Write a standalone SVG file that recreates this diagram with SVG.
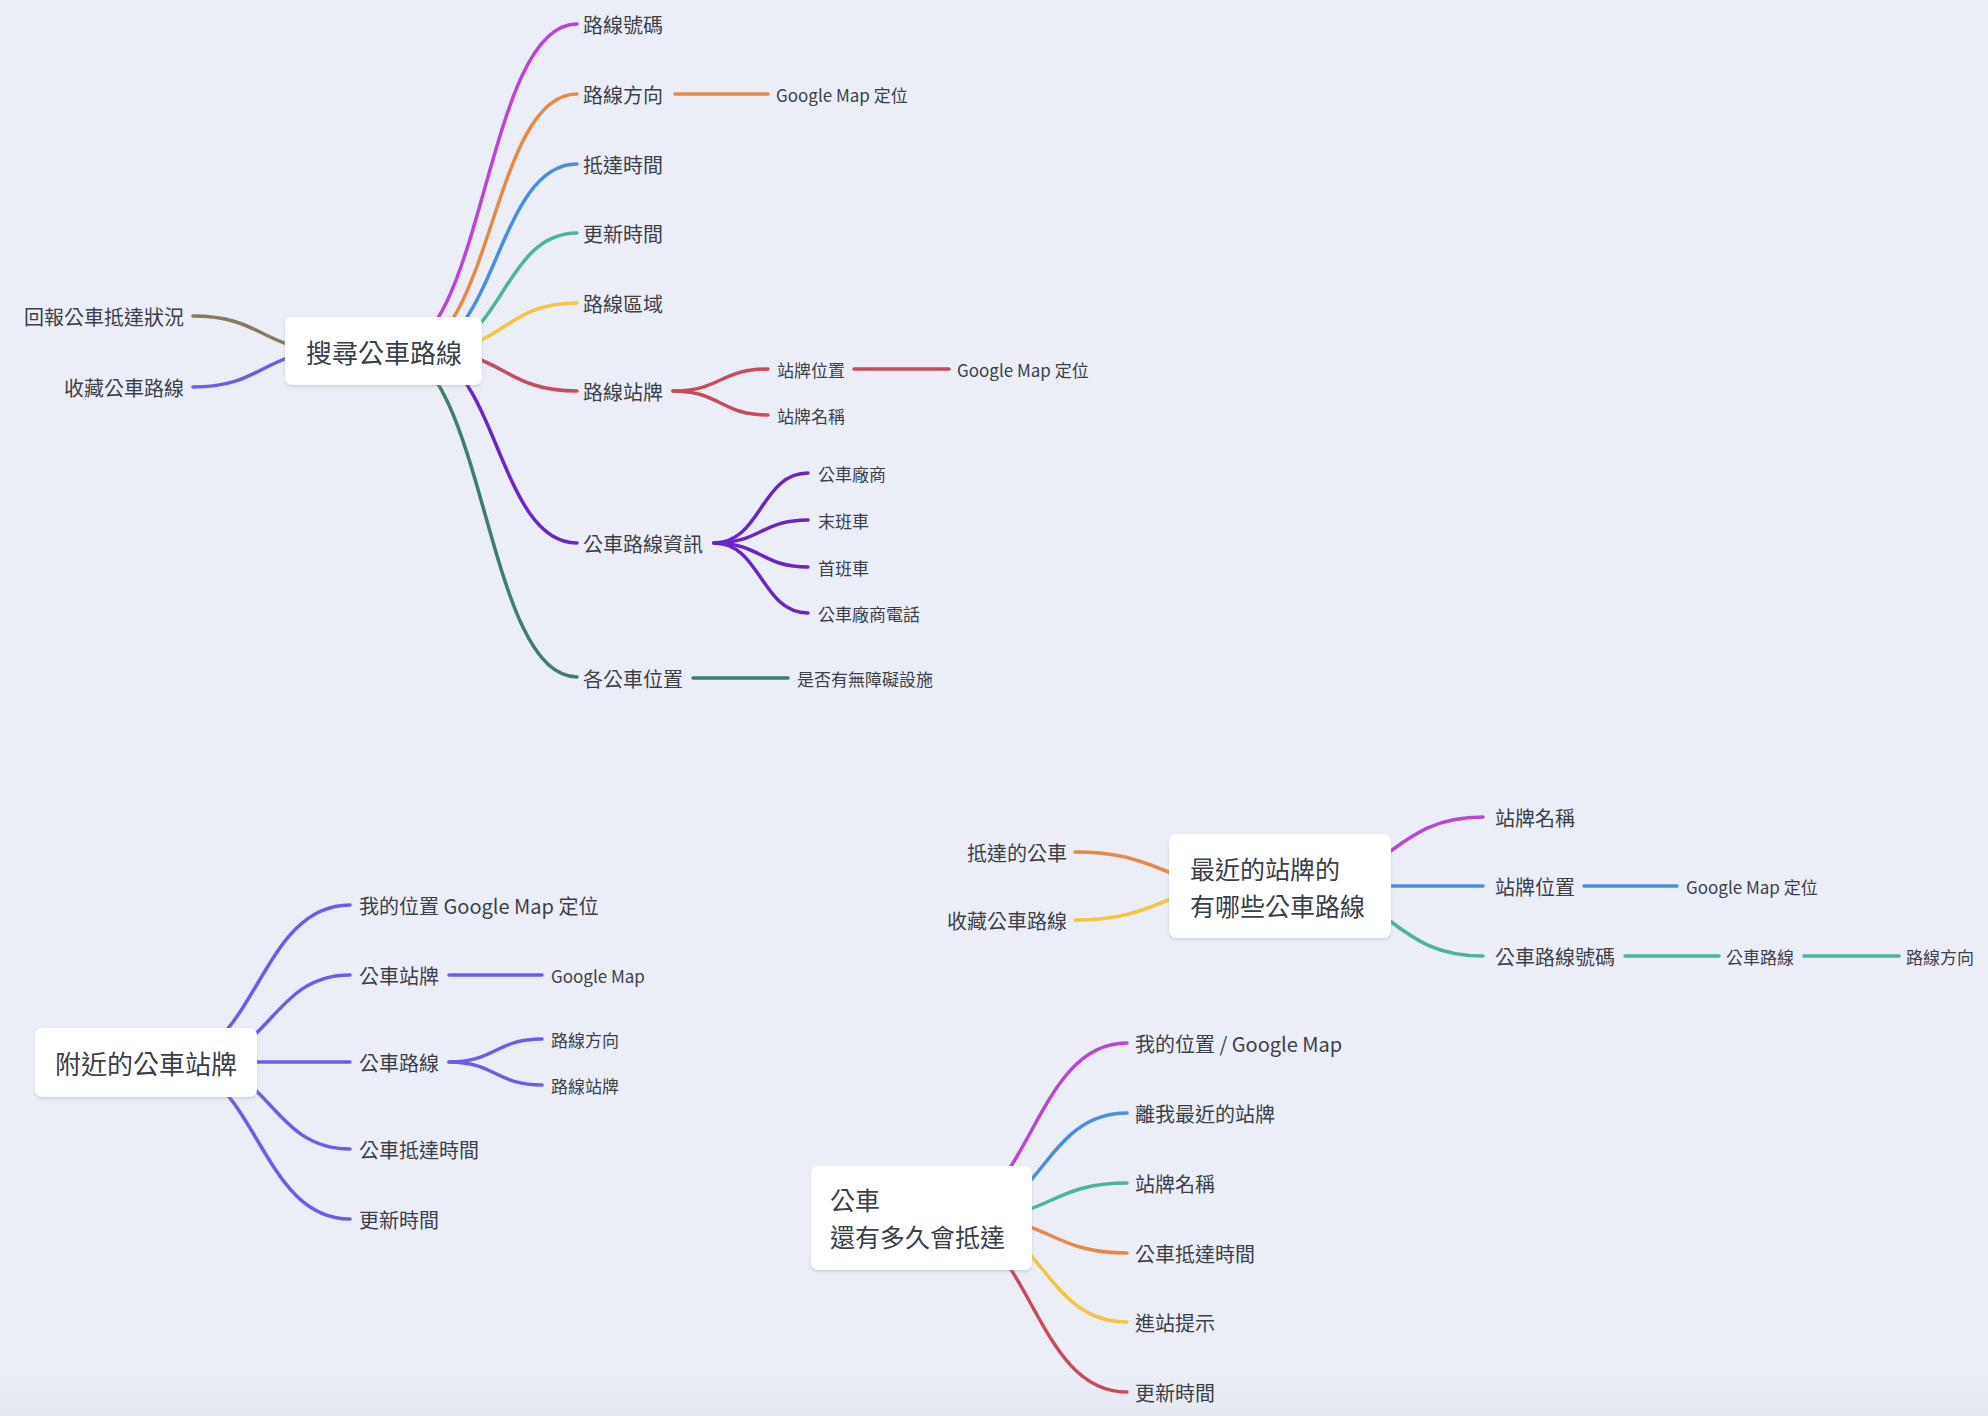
<svg xmlns="http://www.w3.org/2000/svg" width="1988" height="1416" viewBox="0 0 1988 1416">
<defs>
<linearGradient id="bg" x1="0" y1="0" x2="0" y2="1">
<stop offset="0" stop-color="#EBEEF7"/>
<stop offset="0.97" stop-color="#EBEEF7"/>
<stop offset="1" stop-color="#E6E9F2"/>
</linearGradient>
<filter id="sh" x="-10%" y="-10%" width="120%" height="130%">
<feDropShadow dx="0" dy="1.5" stdDeviation="1.5" flood-color="#8890a8" flood-opacity="0.35"/>
</filter>
<style>
text{font-family:"Noto Sans CJK TC","Noto Sans CJK SC",sans-serif;fill:#3b3f47;dominant-baseline:central}
.t20{font-size:20px}
.t17{font-size:17px}
.t26{font-size:26px}
.t25{font-size:25px}
.e{text-anchor:end}
.m{text-anchor:middle}
.box{fill:#ffffff;filter:url(#sh)}
path,line{fill:none;stroke-width:3.5;stroke-linecap:round}
.pu{stroke:#B646D6}.or{stroke:#E38A48}.bl{stroke:#4A8DE0}.te{stroke:#4DB39B}
.ye{stroke:#F2C641}.re{stroke:#C94A5A}.dp{stroke:#6B24C9}.dg{stroke:#3F7E6B}
.br{stroke:#8A7A5C}.bv{stroke:#6B5DEB}
</style>
</defs>
<rect width="1988" height="1416" fill="url(#bg)"/>
<g id="connectors">
<path class="pu" d="M393 351 C485 351 485 24 577 24"/>
<path class="or" d="M407 351 C492 351 492 94 577 94"/>
<path class="bl" d="M416 351 C496.5 351 496.5 164 577 164"/>
<path class="te" d="M428 351 C502.5 351 502.5 233 577 233"/>
<path class="ye" d="M430 351 C503.5 351 503.5 303 577 303"/>
<path class="re" d="M430 351 C503.5 351 503.5 391 577 391"/>
<path class="dp" d="M417 351 C497 351 497 543 577 543"/>
<path class="dg" d="M393 351 C485 351 485 677 577 677"/>
<path class="br" d="M333 351 C263 351 263 316 193 316"/>
<path class="bv" d="M333 351 C263 351 263 387 193 387"/>
<line class="or" x1="675" y1="94" x2="768" y2="94"/>
<path class="re" d="M673 391 C720.5 391 720.5 369 768 369"/>
<path class="re" d="M673 391 C720.5 391 720.5 415 768 415"/>
<line class="re" x1="854" y1="369" x2="949" y2="369"/>
<path class="dp" d="M714 543 C761 543 761 473 808 473"/>
<path class="dp" d="M714 543 C761 543 761 520 808 520"/>
<path class="dp" d="M714 543 C761 543 761 567 808 567"/>
<path class="dp" d="M714 543 C761 543 761 613 808 613"/>
<line class="dg" x1="693" y1="678" x2="788" y2="678"/>
<path class="bv" d="M165 1062 C257.5 1062 257.5 905 350 905"/>
<path class="bv" d="M191 1062 C270.5 1062 270.5 975 350 975"/>
<line class="bv" x1="200" y1="1062" x2="350" y2="1062"/>
<path class="bv" d="M191 1062 C270.5 1062 270.5 1149 350 1149"/>
<path class="bv" d="M165 1062 C257.5 1062 257.5 1219 350 1219"/>
<line class="bv" x1="449" y1="975" x2="542" y2="975"/>
<path class="bv" d="M449 1062 C495.5 1062 495.5 1039 542 1039"/>
<path class="bv" d="M449 1062 C495.5 1062 495.5 1085 542 1085"/>
<path class="pu" d="M1297 886 C1390 886 1390 817 1483 817"/>
<line class="bl" x1="1300" y1="886" x2="1483" y2="886"/>
<path class="te" d="M1297 886 C1390 886 1390 956 1483 956"/>
<path class="or" d="M1247 886 C1161 886 1161 852 1075 852"/>
<path class="ye" d="M1247 886 C1161 886 1161 920 1075 920"/>
<line class="bl" x1="1584" y1="886" x2="1677" y2="886"/>
<line class="te" x1="1625" y1="956" x2="1719" y2="956"/>
<line class="te" x1="1804" y1="956" x2="1899" y2="956"/>
<path class="pu" d="M936 1218 C1031.5 1218 1031.5 1043 1127 1043"/>
<path class="bl" d="M959 1218 C1043 1218 1043 1113 1127 1113"/>
<path class="te" d="M974 1218 C1050.5 1218 1050.5 1183 1127 1183"/>
<path class="or" d="M974 1218 C1050.5 1218 1050.5 1253 1127 1253"/>
<path class="ye" d="M959 1218 C1043 1218 1043 1322 1127 1322"/>
<path class="re" d="M936 1218 C1031.5 1218 1031.5 1392 1127 1392"/>
</g>
<g id="root1"><rect class="box" x="285" y="317" width="197" height="68" rx="7"/><text class="t26 m" x="384" y="351">搜尋公車路線</text></g>
<g id="n1-1"><text class="t20" x="583" y="24">路線號碼</text></g>
<g id="n1-2"><text class="t20" x="583" y="94">路線方向</text></g>
<g id="n1-2-1"><text class="t17" x="776" y="94">Google Map 定位</text></g>
<g id="n1-3"><text class="t20" x="583" y="164">抵達時間</text></g>
<g id="n1-4"><text class="t20" x="583" y="233">更新時間</text></g>
<g id="n1-5"><text class="t20" x="583" y="303">路線區域</text></g>
<g id="n1-6"><text class="t20" x="583" y="391">路線站牌</text></g>
<g id="n1-6-1"><text class="t17" x="777" y="369">站牌位置</text></g>
<g id="n1-6-1-1"><text class="t17" x="957" y="369">Google Map 定位</text></g>
<g id="n1-6-2"><text class="t17" x="777" y="415">站牌名稱</text></g>
<g id="n1-7"><text class="t20" x="583" y="543">公車路線資訊</text></g>
<g id="n1-7-1"><text class="t17" x="818" y="473">公車廠商</text></g>
<g id="n1-7-2"><text class="t17" x="818" y="520">末班車</text></g>
<g id="n1-7-3"><text class="t17" x="818" y="567">首班車</text></g>
<g id="n1-7-4"><text class="t17" x="818" y="613">公車廠商電話</text></g>
<g id="n1-8"><text class="t20" x="583" y="678">各公車位置</text></g>
<g id="n1-8-1"><text class="t17" x="797" y="678">是否有無障礙設施</text></g>
<g id="n1-l1"><text class="t20 e" x="184" y="316">回報公車抵達狀況</text></g>
<g id="n1-l2"><text class="t20 e" x="184" y="387">收藏公車路線</text></g>
<g id="root2"><rect class="box" x="35" y="1028" width="222" height="69" rx="7"/><text class="t26 m" x="146" y="1062">附近的公車站牌</text></g>
<g id="n2-1"><text class="t20" x="359" y="905">我的位置 Google Map 定位</text></g>
<g id="n2-2"><text class="t20" x="359" y="975">公車站牌</text></g>
<g id="n2-2-1"><text class="t17" x="551" y="975">Google Map</text></g>
<g id="n2-3"><text class="t20" x="359" y="1062">公車路線</text></g>
<g id="n2-3-1"><text class="t17" x="551" y="1039">路線方向</text></g>
<g id="n2-3-2"><text class="t17" x="551" y="1085">路線站牌</text></g>
<g id="n2-4"><text class="t20" x="359" y="1149">公車抵達時間</text></g>
<g id="n2-5"><text class="t20" x="359" y="1219">更新時間</text></g>
<g id="root3"><rect class="box" x="1169" y="834" width="222" height="104" rx="7"/><text class="t25" x="1190" y="868">最近的站牌的</text><text class="t25" x="1190" y="905">有哪些公車路線</text></g>
<g id="n3-1"><text class="t20" x="1495" y="817">站牌名稱</text></g>
<g id="n3-2"><text class="t20" x="1495" y="886">站牌位置</text></g>
<g id="n3-2-1"><text class="t17" x="1686" y="886">Google Map 定位</text></g>
<g id="n3-3"><text class="t20" x="1495" y="956">公車路線號碼</text></g>
<g id="n3-3-1"><text class="t17" x="1726" y="956">公車路線</text></g>
<g id="n3-3-1-1"><text class="t17" x="1906" y="956">路線方向</text></g>
<g id="n3-l1"><text class="t20 e" x="1067" y="852">抵達的公車</text></g>
<g id="n3-l2"><text class="t20 e" x="1067" y="920">收藏公車路線</text></g>
<g id="root4"><rect class="box" x="811" y="1166" width="221" height="104" rx="7"/><text class="t25" x="830" y="1199">公車</text><text class="t25" x="830" y="1236">還有多久會抵達</text></g>
<g id="n4-1"><text class="t20" x="1135" y="1043">我的位置 / Google Map</text></g>
<g id="n4-2"><text class="t20" x="1135" y="1113">離我最近的站牌</text></g>
<g id="n4-3"><text class="t20" x="1135" y="1183">站牌名稱</text></g>
<g id="n4-4"><text class="t20" x="1135" y="1253">公車抵達時間</text></g>
<g id="n4-5"><text class="t20" x="1135" y="1322">進站提示</text></g>
<g id="n4-6"><text class="t20" x="1135" y="1392">更新時間</text></g>
</svg>
